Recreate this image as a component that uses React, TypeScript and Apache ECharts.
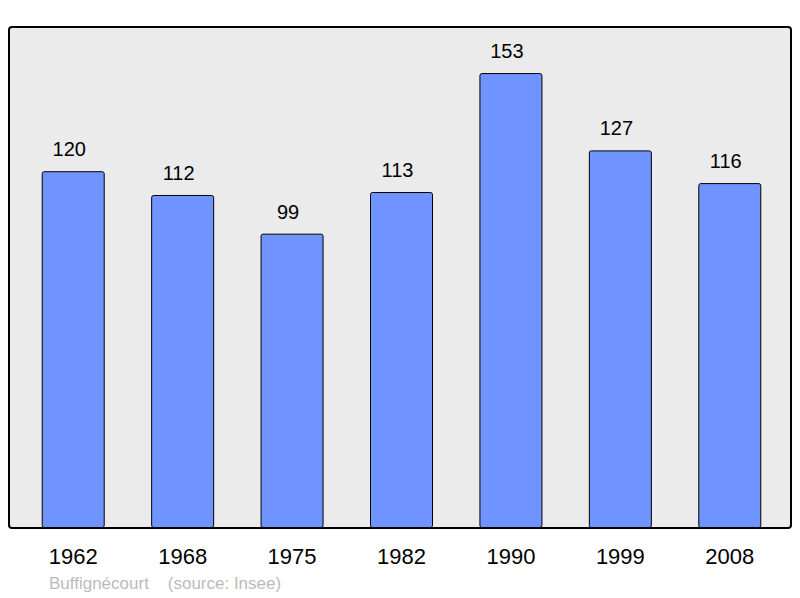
import React, { useEffect, useRef } from "react";
import * as echarts from "echarts";

const years = ["1962", "1968", "1975", "1982", "1990", "1999", "2008"];
const population = [120, 112, 99, 113, 153, 127, 116];
const footerText = "Buffignécourt    (source: Insee)";

export default function App() {
  const ref = useRef<HTMLDivElement>(null);
  useEffect(() => {
    if (!ref.current) return;
    const chart = echarts.init(ref.current, undefined, { renderer: "svg" });
    chart.setOption({
      animation: false,
      backgroundColor: "#ffffff",
      graphic: [
        {
          type: "rect",
          shape: { x: 9, y: 27, width: 782, height: 501, r: 3 },
          style: { fill: "#ebebeb", stroke: "#000000", lineWidth: 2 },
          z: -10,
          silent: true,
        },
        {
          type: "text",
          left: 49,
          top: 575,
          style: {
            text: footerText,
            fill: "#bbbbbb",
            font: "17px 'Liberation Sans', Arial, sans-serif",
          },
        },
      ],
      grid: { left: 18.5, right: 15.5, top: 27, bottom: 70, containLabel: false },
      xAxis: {
        type: "category",
        data: years,
        axisLine: { show: false },
        axisTick: { show: false },
        axisLabel: {
          color: "#000000",
          fontSize: 22,
          fontFamily: "'Liberation Sans', Arial, sans-serif",
          margin: 17,
        },
      },
      yAxis: {
        type: "value",
        min: 0,
        max: 168.5,
        show: false,
        splitLine: { show: false },
      },
      series: [
        {
          type: "bar",
          data: population,
          barWidth: 63,
          itemStyle: {
            color: "#7094ff",
            borderColor: "#000000",
            borderWidth: 1,
            borderRadius: 2,
          },
          label: {
            show: true,
            position: "top",
            distance: 12,
            offset: [-4, 0],
            color: "#000000",
            fontSize: 20,
            fontFamily: "'Liberation Sans', Arial, sans-serif",
          },
        },
      ],
    });
    return () => chart.dispose();
  }, []);
  return <div ref={ref} style={{ width: 800, height: 598, position: "absolute", left: 0, top: 0 }} />;
}
